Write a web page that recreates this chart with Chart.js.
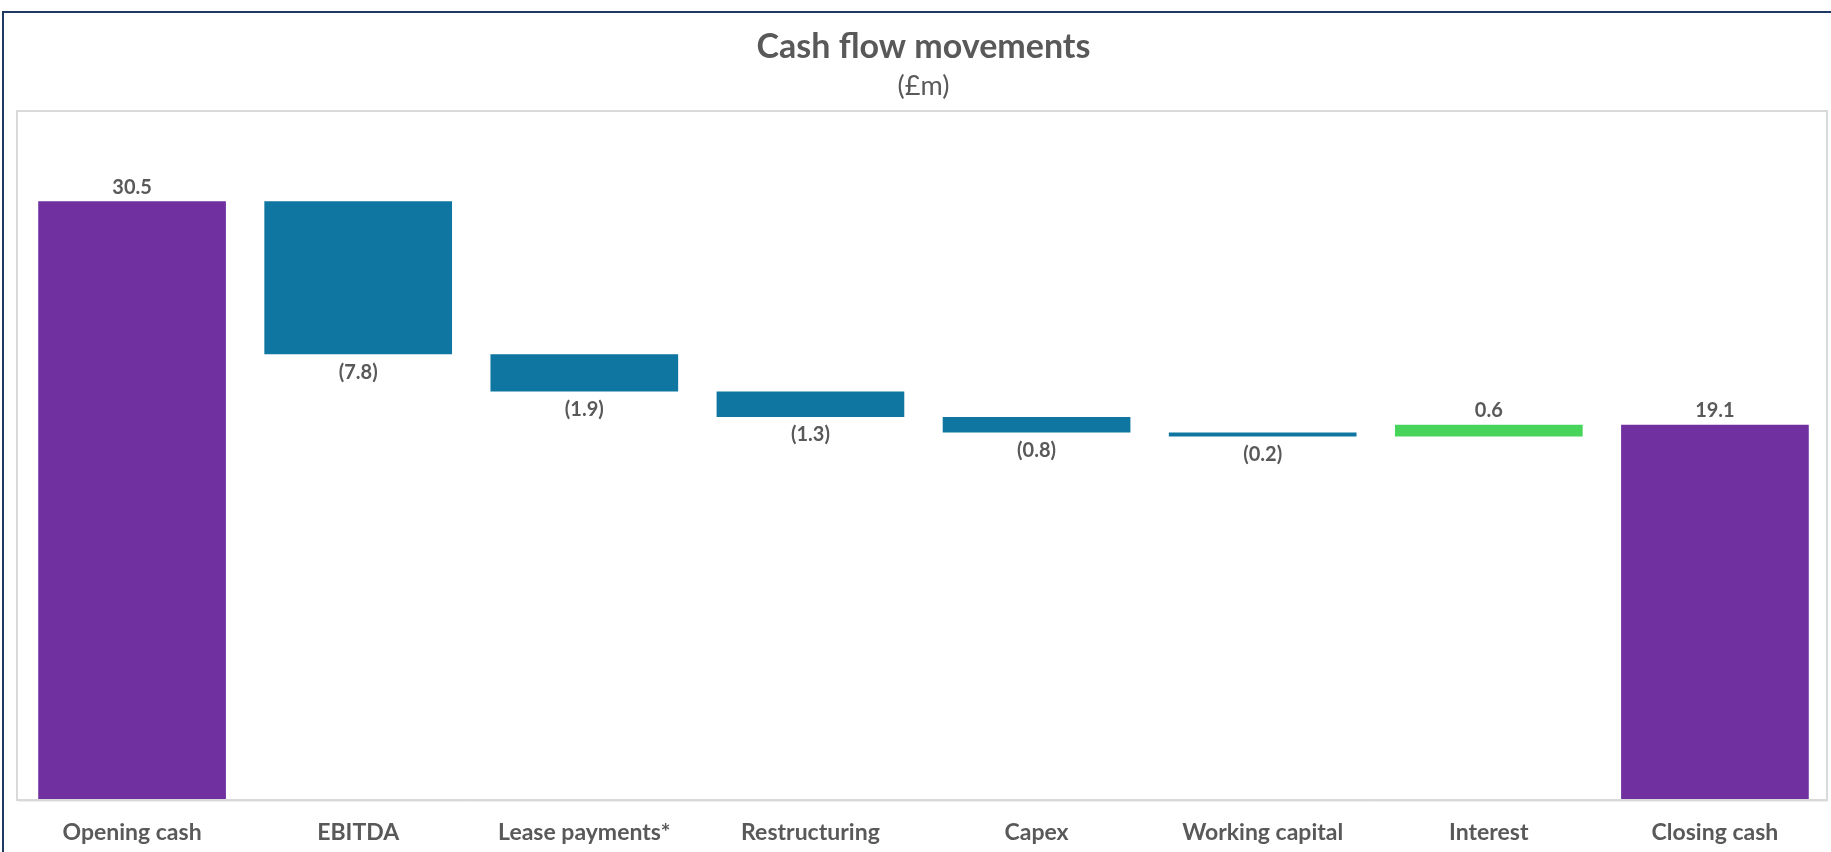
<!DOCTYPE html>
<html>
<head>
<meta charset="utf-8">
<script src="https://cdn.jsdelivr.net/npm/chart.js@4/dist/chart.umd.min.js"></script>
<style>
  html, body { margin: 0; padding: 0; background: #ffffff; }
  #wrap { width: 1831px; height: 852px; position: relative; }
</style>
</head>
<body>
<div id="wrap"><canvas id="c" width="1831" height="852"></canvas></div>
<script>
// ---- Data ----
const categories = ['Opening cash', 'EBITDA', 'Lease payments*', 'Restructuring', 'Capex', 'Working capital', 'Interest', 'Closing cash'];
const movements = [30.5, -7.8, -1.9, -1.3, -0.8, -0.2, 0.6, 19.1];
const barKinds = ['total', 'change', 'change', 'change', 'change', 'change', 'change', 'total'];
const valueLabels = ['30.5', '(7.8)', '(1.9)', '(1.3)', '(0.8)', '(0.2)', '0.6', '19.1'];
const yAxisRange = [0, 35];

// ---- Build floating waterfall ranges ----
const ranges = [];
let running = 0;
movements.forEach((v, i) => {
  if (barKinds[i] === 'total') {
    ranges.push([0, v]);
    running = v;
  } else {
    ranges.push([running, running + v]);
    running = running + v;
  }
});
const COL_TOTAL = '#7030A0', COL_NEG = '#0E76A0', COL_POS = '#46D45B';
const colors = movements.map((v, i) => barKinds[i] === 'total' ? COL_TOTAL : (v < 0 ? COL_NEG : COL_POS));

const TEXT = '#595959';
Chart.defaults.font.family = 'Lato, "Open Sans", sans-serif';
Chart.defaults.color = TEXT;

const frame = {
  id: 'frame',
  beforeDraw(chart) {
    const ctx = chart.ctx;
    ctx.save();
    ctx.fillStyle = '#ffffff';
    ctx.fillRect(0, 0, chart.width, chart.height);
    // outer border
    ctx.strokeStyle = '#1F3864';
    ctx.lineWidth = 2;
    ctx.beginPath();
    ctx.moveTo(3, chart.height);
    ctx.lineTo(3, 12);
    ctx.lineTo(chart.width, 12);
    ctx.stroke();
    // plot area box
    ctx.strokeStyle = '#D9D9D9';
    ctx.lineWidth = 2;
    ctx.strokeRect(17, 111, 1810, 689);
    ctx.strokeStyle = '#EEEEEE';
    ctx.lineWidth = 1;
    ctx.beginPath();
    ctx.moveTo(18, 801.5); ctx.lineTo(1828, 801.5);
    ctx.stroke();
    ctx.restore();
  }
};

const dataLabels = {
  id: 'dataLabels',
  afterDatasetsDraw(chart) {
    const ctx = chart.ctx;
    const meta = chart.getDatasetMeta(0);
    ctx.save();
    ctx.font = 'bold 20px Lato, "Open Sans", sans-serif';
    ctx.fillStyle = TEXT;
    ctx.textAlign = 'center';
    ctx.textBaseline = 'middle';
    meta.data.forEach((el, i) => {
      const top = Math.min(el.y, el.base);
      const bottom = Math.max(el.y, el.base);
      if (movements[i] < 0) {
        ctx.fillText(valueLabels[i], el.x, bottom + 18);
      } else {
        ctx.fillText(valueLabels[i], el.x, top - 14);
      }
    });
    ctx.restore();
  }
};

new Chart(document.getElementById('c'), {
  type: 'bar',
  data: {
    labels: categories,
    datasets: [{
      data: ranges,
      backgroundColor: colors,
      borderWidth: 0,
      borderSkipped: false,
      barPercentage: 0.83,
      categoryPercentage: 1.0
    }]
  },
  options: {
    responsive: false,
    animation: false,
    layout: { padding: { left: 19, right: 3, top: 0, bottom: 0 } },
    plugins: {
      legend: { display: false },
      tooltip: { enabled: false },
      title: {
        display: true,
        text: 'Cash flow movements',
        color: TEXT,
        font: { size: 34, weight: 'bold', lineHeight: 1.2 },
        padding: { top: 27, bottom: 1 }
      },
      subtitle: {
        display: true,
        text: '(£m)',
        color: TEXT,
        font: { size: 27, weight: 'normal', lineHeight: 1.2 },
        padding: { top: 1, bottom: 11 }
      }
    },
    scales: {
      x: {
        grid: { display: false, drawTicks: false },
        border: { display: false },
        ticks: {
          color: TEXT,
          font: { size: 23, weight: 'bold', lineHeight: 1 },
          padding: 22,
          maxRotation: 0,
          autoSkip: false
        },
        afterFit(scale) { scale.height = 53; }
      },
      y: {
        display: false,
        min: yAxisRange[0],
        max: yAxisRange[1]
      }
    }
  },
  plugins: [frame, dataLabels]
});
</script>
</body>
</html>
